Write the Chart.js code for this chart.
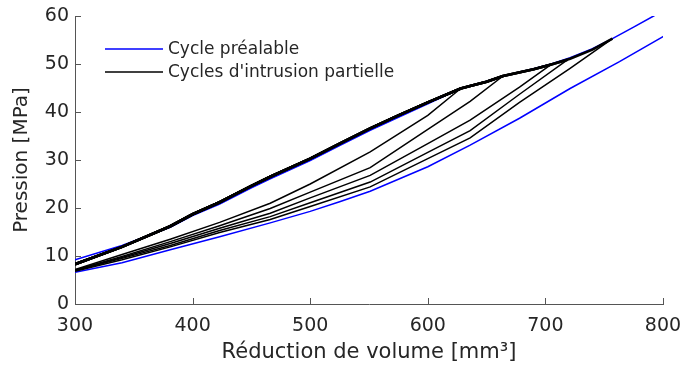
<!DOCTYPE html>
<html>
<head>
<meta charset="utf-8">
<script src="https://cdn.jsdelivr.net/npm/chart.js@4.4.1/dist/chart.umd.min.js"></script>
<style>
html,body{margin:0;padding:0;background:#fff;}
#wrap{width:682px;height:367px;position:relative;}
</style>
</head>
<body>
<div id="wrap"><canvas id="c" width="682" height="367"></canvas></div>
<script>
// ---- axis ticks ----
const xTicks = [300, 400, 500, 600, 700, 800];
const yTicks = [0, 10, 20, 30, 40, 50, 60];
const seriesNames = ['Cycle préalable', "Cycles d'intrusion partielle"];

// ---- blue preliminary cycle: loading branch then unloading branch ----
const blueLoadX = [300, 340, 381, 400, 423, 450, 466, 500, 525, 551, 575, 600, 628, 636, 650, 664, 690, 705, 721, 740, 757, 775, 792, 800];
const blueLoadY = [9.2, 12.2, 16.0, 18.4, 20.8, 24.2, 26.1, 29.9, 33.0, 36.2, 38.9, 41.7, 44.9, 45.5, 46.4, 47.5, 49.0, 50.0, 51.3, 53.2, 55.3, 57.7, 60.0, 61.1];
const blueUnloadX = [806, 800, 763, 721, 678, 636, 600, 575, 551, 525, 500, 466, 423, 381, 340, 300];
const blueUnloadY = [56.4, 55.7, 50.5, 44.9, 38.7, 33.1, 28.6, 26.0, 23.5, 21.3, 19.3, 16.9, 14.0, 11.3, 8.6, 6.6];

// ---- partial intrusion cycles: shared loading path, peaks, unloading branches ----
const blackLoadX = [300, 340, 381, 400, 423, 450, 466, 500, 525, 551, 575, 600, 628, 636, 650, 664, 690, 705, 721, 740, 757];
const blackLoadY = [8.3, 11.9, 16.2, 18.7, 21.2, 24.6, 26.5, 30.3, 33.4, 36.6, 39.3, 42.0, 44.9, 45.4, 46.3, 47.5, 48.9, 49.9, 51.1, 53.0, 55.3];
const peaksX = [628, 664, 705, 719, 757];
const peaksY = [44.9, 47.5, 49.9, 50.9, 55.3];
const cycle1UnloadX = [600, 551, 500, 466, 423, 381, 340, 300];
const cycle1UnloadY = [39.3, 31.7, 25.0, 21.0, 17.0, 13.5, 10.3, 7.2];
const cycle2UnloadX = [636, 600, 551, 500, 466, 423, 381, 340, 300];
const cycle2UnloadY = [42.2, 36.4, 28.4, 23.3, 19.9, 16.3, 13.0, 9.9, 7.1];
const cycle3UnloadX = [678, 636, 600, 551, 500, 466, 423, 381, 340, 300];
const cycle3UnloadY = [45.2, 38.3, 33.4, 26.8, 22.1, 18.9, 15.8, 12.6, 9.7, 7.0];
const cycle4UnloadX = [678, 636, 600, 551, 500, 466, 423, 381, 340, 300];
const cycle4UnloadY = [43.7, 36.1, 31.6, 25.4, 21.1, 18.2, 15.3, 12.2, 9.5, 6.9];
const cycle5UnloadX = [721, 678, 636, 600, 551, 500, 466, 423, 381, 340, 300];
const cycle5UnloadY = [49.1, 42.0, 34.6, 30.3, 24.4, 20.3, 17.6, 14.9, 11.9, 9.2, 6.8];

// ---- styles ----
const BLUE = '#0000ff';
const BLACK = '#000000';
const TEXT = '#262626';
const AXIS = '#555555';
const FONT = "'DejaVu Sans', sans-serif";

function zip(xs, ys) { return xs.map((x, i) => ({ x: x, y: ys[i] })); }

const blueData = zip(blueLoadX, blueLoadY).concat(zip(blueUnloadX, blueUnloadY));
const unloads = [
  [cycle1UnloadX, cycle1UnloadY],
  [cycle2UnloadX, cycle2UnloadY],
  [cycle3UnloadX, cycle3UnloadY],
  [cycle4UnloadX, cycle4UnloadY],
  [cycle5UnloadX, cycle5UnloadY]
];

const datasets = [{
  label: seriesNames[0],
  data: blueData,
  borderColor: BLUE,
  borderWidth: 1.5,
  pointRadius: 0,
  showLine: true,
  tension: 0,
  order: 2
}];

unloads.forEach((u, k) => {
  const load = [];
  blackLoadX.forEach((x, i) => { if (x < peaksX[k]) load.push({ x: x, y: blackLoadY[i] }); });
  const nLoad = load.length;
  const pts = load.concat([{ x: peaksX[k], y: peaksY[k] }]).concat(zip(u[0], u[1]));
  datasets.push({
    label: k === 0 ? seriesNames[1] : '',
    data: pts,
    borderColor: BLACK,
    borderWidth: 1.5,
    pointRadius: 0,
    showLine: true,
    tension: 0,
    order: 1,
    segment: {
      borderWidth: ctx => (ctx.p1DataIndex <= nLoad ? 2.6 : 1.5)
    }
  });
});

// inward tick marks
const innerTicks = {
  id: 'innerTicks',
  afterDraw(chart) {
    const ctx = chart.ctx, xs = chart.scales.x, ys = chart.scales.y, a = chart.chartArea;
    ctx.save();
    ctx.strokeStyle = AXIS;
    ctx.lineWidth = 1;
    ctx.beginPath();
    xTicks.forEach(v => {
      const p = Math.round(xs.getPixelForValue(v)) + 0.5;
      ctx.moveTo(p, a.bottom); ctx.lineTo(p, a.bottom - 6);
    });
    yTicks.forEach(v => {
      const p = Math.round(ys.getPixelForValue(v)) + 0.5;
      ctx.moveTo(a.left, p); ctx.lineTo(a.left + 6, p);
    });
    ctx.stroke();
    ctx.restore();
  }
};

// legend drawn inside the plot area
const insideLegend = {
  id: 'insideLegend',
  afterDraw(chart) {
    const ctx = chart.ctx, a = chart.chartArea;
    const items = [
      { label: seriesNames[0], color: BLUE, dy: 33 },
      { label: seriesNames[1], color: BLACK, dy: 56 }
    ];
    ctx.save();
    ctx.font = "17px " + FONT;
    ctx.textBaseline = 'middle';
    ctx.textAlign = 'left';
    items.forEach(it => {
      const y = a.top + it.dy;
      ctx.strokeStyle = it.color;
      ctx.lineWidth = 1.5;
      ctx.beginPath();
      ctx.moveTo(a.left + 30, y);
      ctx.lineTo(a.left + 88, y);
      ctx.stroke();
      ctx.fillStyle = TEXT;
      ctx.fillText(it.label, a.left + 93, y + 1);
    });
    ctx.restore();
  }
};

new Chart(document.getElementById('c'), {
  type: 'scatter',
  data: { datasets: datasets },
  options: {
    responsive: false,
    animation: false,
    devicePixelRatio: 1,
    layout: { padding: { top: 16, right: 19, left: 0, bottom: 0 } },
    plugins: {
      legend: { display: false },
      tooltip: { enabled: false }
    },
    scales: {
      x: {
        type: 'linear',
        min: 300, max: 800,
        afterFit: s => { s.height = 63; s.paddingLeft = 0; s.paddingRight = 0; },
        afterBuildTicks: s => { s.ticks = xTicks.map(v => ({ value: v })); },
        grid: { display: false, drawTicks: false },
        border: { display: true, color: AXIS, width: 1 },
        ticks: { color: TEXT, font: { family: FONT, size: 19 }, padding: 11, maxRotation: 0 },
        title: { display: true, text: 'Réduction de volume [mm³]', color: TEXT, font: { family: FONT, size: 21 }, padding: { top: 0, bottom: 2 } }
      },
      y: {
        type: 'linear',
        min: 0, max: 60,
        afterFit: s => { s.width = 75; s.paddingTop = 0; s.paddingBottom = 0; },
        afterBuildTicks: s => { s.ticks = yTicks.map(v => ({ value: v })); },
        grid: { display: false, drawTicks: false },
        border: { display: true, color: AXIS, width: 1 },
        ticks: { color: TEXT, font: { family: FONT, size: 19 }, padding: 6 },
        title: { display: true, text: 'Pression [MPa]', color: TEXT, font: { family: FONT, size: 20 }, padding: { top: 10, bottom: 0 } }
      }
    }
  },
  plugins: [innerTicks, insideLegend]
});
</script>
</body>
</html>
